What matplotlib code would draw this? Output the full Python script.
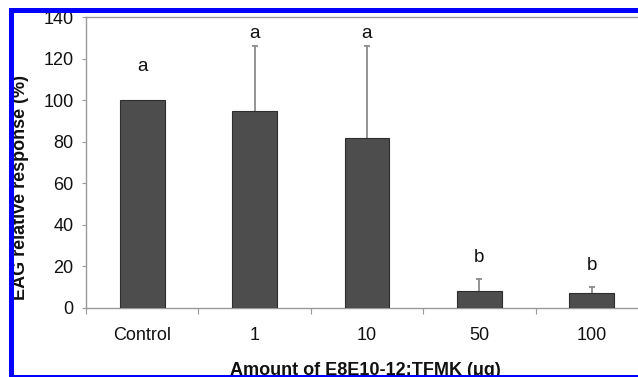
import matplotlib
matplotlib.use("Agg")
import matplotlib.pyplot as plt
from matplotlib.patches import Rectangle

categories = ["Control", "1", "10", "50", "100"]
values = [100, 95, 82, 8, 7]
errors_up = [0, 31, 44, 6, 3]
letters = ["a", "a", "a", "b", "b"]
letter_y = [114, 130, 130, 22, 18.5]
y_ticks = [0, 20, 40, 60, 80, 100, 120, 140]

plt.rcParams['font.family'] = ['Liberation Sans', 'DejaVu Sans']

W, H = 638, 377
fig = plt.figure(figsize=(W / 100, H / 100), dpi=100)
ax = fig.add_axes([86 / W, 1 - 308 / H, (648 - 86) / W, (308 - 17) / H])

x = list(range(len(categories)))
ax.bar(x, values, width=0.4, color="#4d4d4d", edgecolor="#2e2e2e", linewidth=0.8, zorder=3)

ex = [xi for xi, e in zip(x, errors_up) if e > 0]
ev = [v for v, e in zip(values, errors_up) if e > 0]
ee = [e for e in errors_up if e > 0]
_, caps, _ = ax.errorbar(ex, ev, yerr=[[0] * len(ee), ee], fmt="none", ecolor="#8a8a8a",
                         elinewidth=1.3, capsize=2.2, capthick=1.3, zorder=2)
if len(caps) == 2:
    caps[0].set_visible(False)

for xi, lab, ly in zip(x, letters, letter_y):
    ax.text(xi, ly, lab, ha="center", va="baseline", fontsize=13.5, color="#111111")

ax.set_xlim(-0.5, len(categories) - 0.5)
ax.set_ylim(0, 140)
ax.set_yticks(y_ticks)
ax.tick_params(axis="y", direction="out", length=3, width=0.8, color="#999999",
               labelsize=13, pad=6, labelcolor="#111111")
ax.set_xticks(x)
ax.set_xticklabels(categories)
ax.set_xticks([i - 0.5 for i in range(len(categories) + 1)], minor=True)
ax.tick_params(axis="x", which="major", length=0, labelsize=13, pad=14, labelcolor="#111111")
ax.tick_params(axis="x", which="minor", direction="out", length=4, width=0.8, color="#999999")

for s in ["left", "bottom", "top"]:
    ax.spines[s].set_color("#999999")
    ax.spines[s].set_linewidth(1.0)
ax.spines["right"].set_visible(False)

fig.text(21 / W, 1 - 188 / H, "EAG relative response (%)", rotation=90, ha="center", va="center",
         fontsize=13, fontweight="bold", color="#111111")
fig.text(365 / W, 1 - 375 / H, "Amount of E8E10-12:TFMK (μg)", ha="center", va="baseline",
         fontsize=13, fontweight="bold", color="#111111")

blue = "#0000ff"
def fig_rect(x0, y0, x1, y1):
    fig.add_artist(Rectangle((x0 / W, 1 - y1 / H), (x1 - x0) / W, (y1 - y0) / H,
                             transform=fig.transFigure, color=blue, zorder=10, linewidth=0))
fig_rect(9, 8, W, 13)
fig_rect(9, 8, 14, H)
fig_rect(9, 375, W, H)

fig.savefig("out.png", dpi=100)
